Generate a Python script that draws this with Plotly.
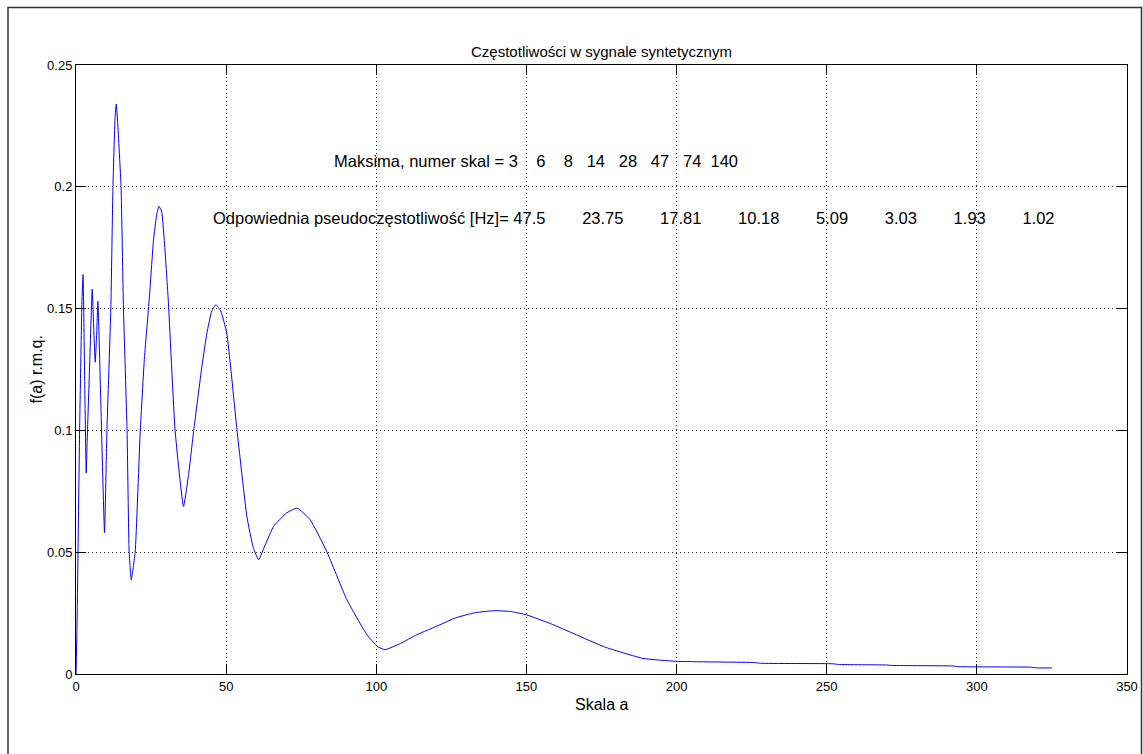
import plotly.graph_objects as go

# ---- data ----
scale_a = [0, 0.3, 0.67, 1.2, 2.0, 2.35, 2.9, 3.4, 3.7, 4.5, 5.4, 5.9, 6.4, 6.9, 7.3,
           8.4, 9.5, 10.3, 11.6, 12.3, 13.0, 13.4, 13.9, 15.0, 15.8, 17.0, 17.7, 18.4,
           19.7, 21.4, 22.8, 24.4, 25.8, 26.8, 27.6, 28.5, 29.4, 30.7, 33.0, 35.8,
           37.5, 39.2, 41.9, 43.6, 45.2, 46.6, 48.2, 50.2, 53.6, 56.9, 59.0, 60.8,
           63.0, 65.8, 70.0, 73.6, 78.0, 83.5, 90.2, 96.9, 100.5, 102.9, 108.0,
           113.5, 121.2, 126.3, 133.0, 139.7, 145.0, 150.0, 158.0, 165.9, 176.0,
           188.8, 200.0, 226.0, 228.0, 252.0, 254.0, 270.0, 272.0, 292.0, 294.0,
           318.0, 320.0, 325.0]
f_rmq = [0, 0.017, 0.05, 0.1, 0.154, 0.164, 0.12, 0.0825, 0.095, 0.125, 0.158, 0.142,
         0.128, 0.14, 0.153, 0.105, 0.058, 0.1, 0.15, 0.2, 0.228, 0.234, 0.226, 0.2,
         0.15, 0.1, 0.05, 0.0387, 0.05, 0.1, 0.13, 0.154, 0.178, 0.188, 0.192, 0.19,
         0.178, 0.154, 0.1, 0.0688, 0.082, 0.1, 0.126, 0.14, 0.149, 0.1516, 0.149,
         0.14, 0.1003, 0.0647, 0.052, 0.0469, 0.053, 0.0606, 0.066, 0.0681, 0.0633,
         0.0503, 0.0305, 0.0161, 0.0112, 0.00998, 0.0125, 0.0161, 0.0202, 0.023,
         0.0252, 0.026, 0.0256, 0.0243, 0.0207, 0.0165, 0.0111, 0.0064, 0.0052,
         0.0047, 0.0044, 0.0042, 0.0039, 0.0037, 0.0035, 0.0033, 0.0030, 0.0028,
         0.0025, 0.0025]

maxima_scales = [3, 6, 8, 14, 28, 47, 74, 140]
pseudo_freq = ["47.5", "23.75", "17.81", "10.18", "5.09", "3.03", "1.93", "1.02"]

x_ticks = [0, 50, 100, 150, 200, 250, 300, 350]
y_ticks = [0, 0.05, 0.1, 0.15, 0.2, 0.25]
y_tick_text = ["0", "0.05", "0.1", "0.15", "0.2", "0.25"]

title_text = "Częstotliwości w sygnale syntetycznym"
x_label = "Skala a"
y_label = "f(a) r.m.q."

NB = "\u00a0"
FONT = "Liberation Sans, Arial, sans-serif"
TICK_SIZE = 13
TITLE_SIZE = 15
LABEL_SIZE = 16
TEXT_SIZE = 16.5

# num2str-like padding for the scale numbers
w1 = max(len(str(v)) for v in maxima_scales) + 2
line1 = "Maksima, numer skal = " + "".join(str(v).rjust(w1) for v in maxima_scales).lstrip()
line1 = line1.replace(" ", NB)
# frequencies separated by a fixed run of spaces
line2 = "Odpowiednia pseudoczęstotliwość [Hz]=" + NB + (NB * 8).join(pseudo_freq)

fig = go.Figure()
fig.add_trace(go.Scatter(x=scale_a, y=f_rmq, mode="lines",
                         line=dict(color="rgb(0,0,255)", width=1, shape="spline",
                                   smoothing=0.4),
                         showlegend=False))

axis_common = dict(showline=True, linecolor="black", linewidth=1, mirror="ticks",
                   ticks="inside", ticklen=10, tickcolor="black", tickwidth=1,
                   showgrid=True, gridcolor="rgba(0,0,0,0.85)", gridwidth=1,
                   griddash="1px,3px", zeroline=False,
                   tickfont=dict(family=FONT, size=TICK_SIZE, color="black"))

fig.update_xaxes(range=[0, 350], tickvals=x_ticks, **axis_common)
fig.update_yaxes(range=[0, 0.25], tickvals=y_ticks, ticktext=y_tick_text, **axis_common)

W, H = 1143, 754
L, R, T, B = 76, 16, 65, 80
pw, ph = W - L - R, H - T - B

def px_to_paper_x(px):
    return (px - L) / pw

def px_to_paper_y(py):
    return (H - B - py) / ph

fig.update_layout(
    width=W, height=H,
    margin=dict(l=L, r=R, t=T, b=B, autoexpand=False),
    paper_bgcolor="white", plot_bgcolor="white",
    font=dict(family=FONT, size=13, color="black"),
    title=dict(text=title_text, x=0.5, xref="paper", y=1 - 52 / H, yref="container",
               xanchor="center", yanchor="middle",
               font=dict(family=FONT, size=TITLE_SIZE, color="black")),
    annotations=[
        dict(text=x_label, xref="paper", yref="paper", x=0.5, y=px_to_paper_y(704),
             xanchor="center", yanchor="middle", showarrow=False,
             font=dict(family=FONT, size=LABEL_SIZE)),
        dict(text=y_label, xref="paper", yref="paper", x=px_to_paper_x(36), y=0.5,
             xanchor="center", yanchor="middle", textangle=-90, showarrow=False,
             font=dict(family=FONT, size=LABEL_SIZE)),
        dict(text=line1, xref="x", yref="y", x=85.3, y=0.2107, xanchor="left",
             yanchor="middle", showarrow=False, font=dict(family=FONT, size=TEXT_SIZE)),
        dict(text=line2, xref="x", yref="y", x=45.0, y=0.1873, xanchor="left",
             yanchor="middle", showarrow=False, font=dict(family=FONT, size=TEXT_SIZE)),
    ],
    shapes=[
        dict(type="rect", xref="paper", yref="paper",
             x0=px_to_paper_x(8), x1=px_to_paper_x(1141.5),
             y0=px_to_paper_y(770), y1=px_to_paper_y(7.5),
             line=dict(color="#333333", width=1.5), fillcolor="rgba(0,0,0,0)",
             layer="below"),
    ],
)

fig.write_html("out.html")
